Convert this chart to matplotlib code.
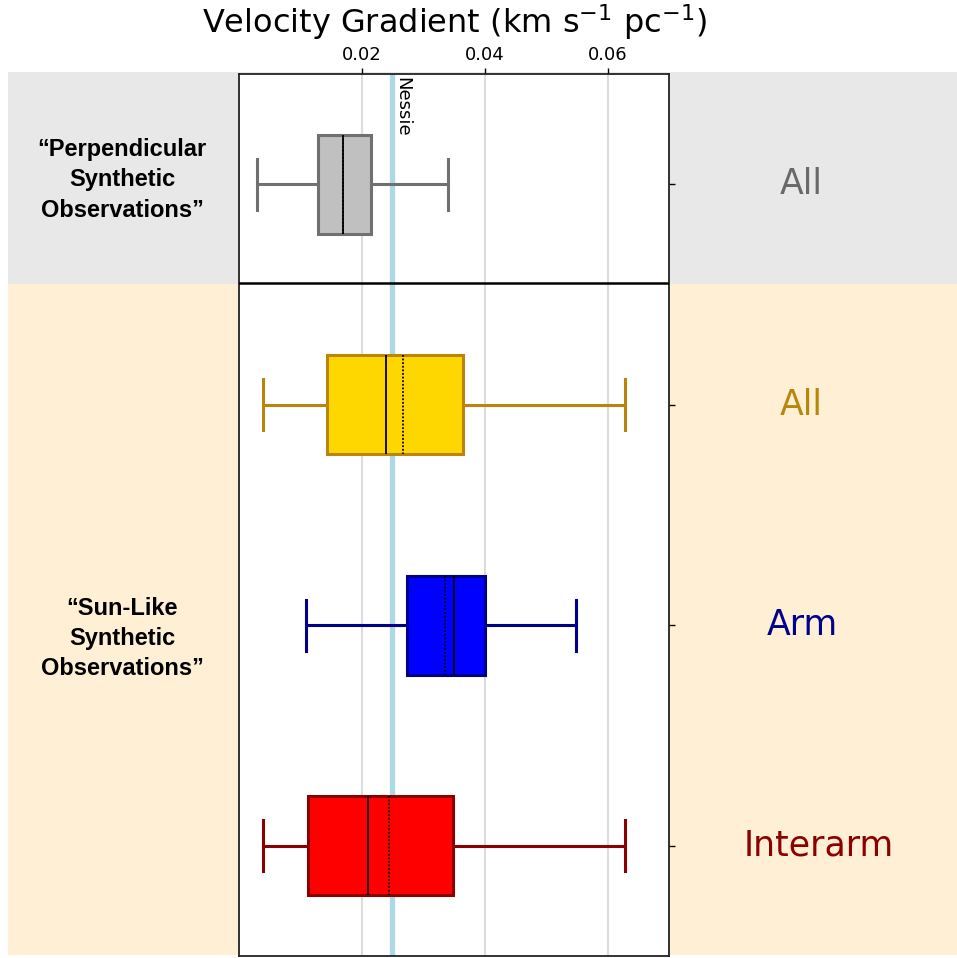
import matplotlib
matplotlib.use("Agg")
import matplotlib.pyplot as plt
from matplotlib.patches import Rectangle
import matplotlib.transforms as mtransforms

# ---- data ----
groups = ["All", "All", "Arm", "Interarm"]
whislo = [0.0029, 0.0039, 0.0109, 0.0039]
q1 = [0.0129, 0.0144, 0.0273, 0.0112]
med = [0.0170, 0.0239, 0.0350, 0.0210]
mean = [0.0170, 0.0267, 0.0336, 0.0244]
q3 = [0.0215, 0.0365, 0.0401, 0.0348]
whishi = [0.0340, 0.0629, 0.0549, 0.0629]
nessie = 0.0249
xticks = [0.02, 0.04, 0.06]
xticklabels = ["0.02", "0.04", "0.06"]
face_colors = ["#c0c0c0", "#ffd700", "#0000ff", "#ff0000"]
edge_colors = ["#707070", "#b8860b", "#00008b", "#8b0000"]
label_colors = ["#696969", "#b8860b", "#00008b", "#8b0000"]
section_labels = ["\u201cPerpendicular\nSynthetic\nObservations\u201d",
                  "\u201cSun-Like\nSynthetic\nObservations\u201d"]

W, H = 957, 958
fig = plt.figure(figsize=(W / 100, H / 100), dpi=100)

# background bands
fig.patches.append(Rectangle((8 / W, 1 - 283.5 / H), 1 - 8 / W, (283.5 - 72) / H,
                             transform=fig.transFigure, facecolor="#e8e8e8",
                             edgecolor="none", zorder=-2))
fig.patches.append(Rectangle((8 / W, 1 - 955 / H), 1 - 8 / W, (955 - 283.5) / H,
                             transform=fig.transFigure, facecolor="#ffefd5",
                             edgecolor="none", zorder=-2))

ax = fig.add_axes([239 / W, 1 - 956 / H, 430 / W, 882 / H])
ax.set_zorder(1)
ax.set_facecolor("white")

positions = list(range(len(groups)))
stats = []
for i in positions:
    stats.append(dict(med=med[i], q1=q1[i], q3=q3[i], whislo=whislo[i],
                      whishi=whishi[i], mean=mean[i], fliers=[]))

bp = ax.bxp(stats, positions=positions, widths=0.45, orientation="horizontal",
            patch_artist=True, showmeans=True, meanline=True, capwidths=0.23,
            showfliers=False, zorder=3)
for i in positions:
    bp["boxes"][i].set(facecolor=face_colors[i], edgecolor=edge_colors[i], linewidth=2.2)
    for w in bp["whiskers"][2 * i:2 * i + 2]:
        w.set(color=edge_colors[i], linewidth=2.2)
    for c in bp["caps"][2 * i:2 * i + 2]:
        c.set(color=edge_colors[i], linewidth=2.2)
    bp["medians"][i].set(color="black", linewidth=1.3, linestyle="-")
    bp["means"][i].set(color="black", linewidth=1.3, linestyle=(0, (1, 1)))

ax.set_xlim(0, 0.07)
ax.set_ylim(3.5, -0.5)

# grid and reference line
for xt in xticks:
    ax.axvline(xt, color="#dcdcdc", linewidth=1.5, zorder=1)
ax.axvline(nessie, color="#add8e6", linewidth=3.8, zorder=2)
ax.text(nessie, -0.485, "Nessie", rotation=-90, ha="left", va="top",
        fontsize=13, color="black", family="DejaVu Sans",
        transform=mtransforms.offset_copy(ax.transData, fig=fig, x=1.0, y=0, units="dots"),
        zorder=4)

# separator line
ax.axhline(0.45, color="black", linewidth=1.8, zorder=4)

# axes ticks
ax.xaxis.tick_top()
ax.set_xticks(xticks)
ax.set_xticklabels(xticklabels, fontsize=13, family="DejaVu Sans")
ax.tick_params(axis="x", direction="out", length=4, width=1, pad=3.5)
ax.yaxis.tick_right()
ax.set_yticks(positions)
ax.set_yticklabels([""] * len(positions))
ax.tick_params(axis="y", direction="out", length=4, width=1)
for s in ax.spines.values():
    s.set_color("#222222")
    s.set_linewidth(1.3)

# right labels
tr = mtransforms.blended_transform_factory(fig.transFigure, ax.transData)
label_x = [801, 801, 802, 819]
for i in positions:
    ax.text(label_x[i] / W, positions[i], groups[i], transform=tr, ha="center", va="center",
            fontsize=25, color=label_colors[i], family="DejaVu Sans")

# left labels
ax.text(122 / W, -0.02, section_labels[0], transform=tr, ha="center", va="center",
        fontsize=17, fontweight="bold", family=["Liberation Sans Narrow", "Liberation Sans"],
        linespacing=1.4, multialignment="center")
ax.text(122 / W, 2.06, section_labels[1], transform=tr, ha="center", va="center",
        fontsize=17, fontweight="bold", family=["Liberation Sans Narrow", "Liberation Sans"],
        linespacing=1.4, multialignment="center")

# title
fig.text(454 / W, 1 - 33 / H, "Velocity Gradient (km s$^{-1}$ pc$^{-1}$)",
         ha="center", va="baseline", fontsize=23, family="DejaVu Sans")

fig.savefig("out.png", dpi=100)
